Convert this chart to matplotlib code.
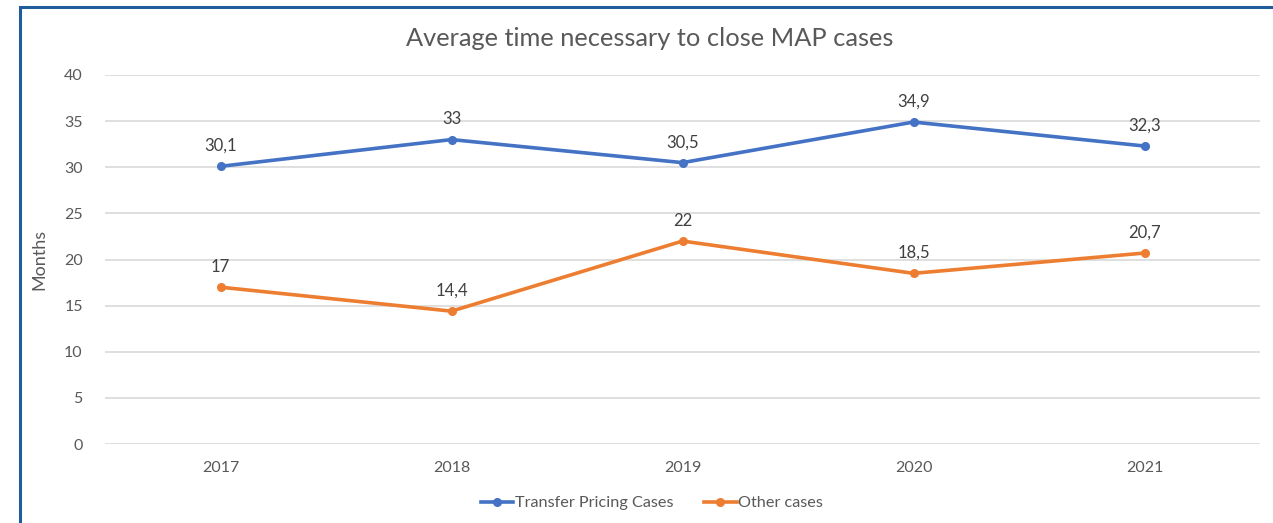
import matplotlib
matplotlib.use("Agg")
import matplotlib.pyplot as plt
from matplotlib.patches import Rectangle
from matplotlib.lines import Line2D

years = ["2017", "2018", "2019", "2020", "2021"]
transfer_pricing = [30.1, 33, 30.5, 34.9, 32.3]
other_cases = [17, 14.4, 22, 18.5, 20.7]
tp_labels = ["30,1", "33", "30,5", "34,9", "32,3"]
other_labels = ["17", "14,4", "22", "18,5", "20,7"]
yticks = [0, 5, 10, 15, 20, 25, 30, 35, 40]

plt.rcParams['font.family'] = ['Lato', 'DejaVu Sans']
grey = "#595959"
blue = "#4472C4"
orange = "#ED7D31"

fig = plt.figure(figsize=(12.73, 5.23), dpi=100)
ax = fig.add_axes([105/1273, 1-444/523, (1260-105)/1273, (444-75)/523])

x = list(range(len(years)))
ax.plot(x, transfer_pricing, color=blue, lw=2.6, marker='o', ms=5.5, label="Transfer Pricing Cases")
ax.plot(x, other_cases, color=orange, lw=2.6, marker='o', ms=5.5, label="Other cases")

for xi, v, t in zip(x, transfer_pricing, tp_labels):
    ax.annotate(t, (xi, v), xytext=(0, 9), textcoords='offset points', ha='center', va='bottom',
                fontsize=12, color="#404040")
for xi, v, t in zip(x, other_cases, other_labels):
    ax.annotate(t, (xi, v), xytext=(0, 9), textcoords='offset points', ha='center', va='bottom',
                fontsize=12, color="#404040")

ax.set_xlim(-0.5, 4.5)
ax.set_ylim(0, 40)
ax.set_yticks(yticks)
ax.set_xticks(x)
ax.set_xticklabels(years)
ax.yaxis.grid(True, color="#D9D9D9", lw=1.2)
ax.set_axisbelow(True)
for s in ax.spines.values():
    s.set_visible(False)
ax.tick_params(axis='both', length=0, colors=grey, labelsize=11.5)
ax.tick_params(axis='y', pad=16)
ax.tick_params(axis='x', pad=12)
ax.set_ylabel("Months", color=grey, fontsize=13, labelpad=12)

fig.text(650/1273, 1-38/523, "Average time necessary to close MAP cases", ha='center', va='center',
         fontsize=18.3, color=grey)

handles = [Line2D([0], [0], color=blue, lw=2.6, marker='o', ms=5.5),
           Line2D([0], [0], color=orange, lw=2.6, marker='o', ms=5.5)]
fig.legend(handles, ["Transfer Pricing Cases", "Other cases"], loc='center', bbox_to_anchor=(652/1273, 1-503/523),
           ncol=2, frameon=False, fontsize=11.7, labelcolor=grey, handlelength=2.0, handletextpad=0.1,
           columnspacing=1.9)

fig.patches.append(Rectangle((20/1273, -0.1), 1.2, 1 - 7/523 + 0.1, transform=fig.transFigure,
                             fill=False, edgecolor="#1F5C99", lw=2.2, zorder=10))

fig.savefig("out.png", dpi=100)
